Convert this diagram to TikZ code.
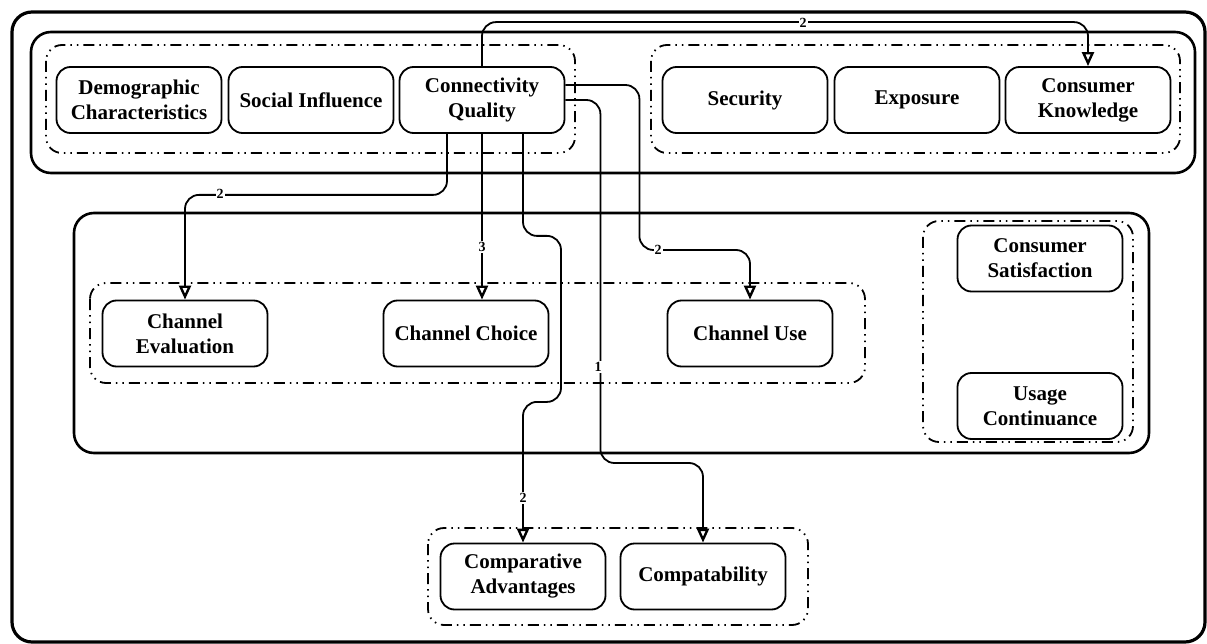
\documentclass[tikz,border=0pt]{standalone}
\usepackage{fontspec}
\setmainfont{Liberation Serif}
\usetikzlibrary{arrows.meta}

\begin{document}
\begin{tikzpicture}[x=1pt, y=-1pt,
  item/.style={draw, line width=1.8pt, rounded corners=14pt,
    minimum width=165pt, minimum height=66pt, align=center, inner sep=2pt,
    font=\fontsize{21}{25}\selectfont\bfseries},
  frame/.style={draw, line width=2.6pt, rounded corners=20pt},
  cluster/.style={draw, line width=1.8pt, rounded corners=16pt,
    dash pattern=on 11pt off 5pt on 1.5pt off 5pt on 1.5pt off 5pt},
  link/.style={draw, line width=1.8pt, rounded corners=14pt,
    -{Triangle[open, length=14pt, width=12pt, line width=2.4pt]}},
  tag/.style={fill=white, inner sep=1pt, font=\fontsize{14}{14}\selectfont\bfseries}
]
\useasboundingbox (0,0) rectangle (1207,644);

% outer frame
\draw[line width=3.2pt, rounded corners=20pt] (12,12) rectangle (1205,642);

% group frames
\draw[frame] (31,32) rectangle (1195,173);
\draw[frame] (74,213) rectangle (1149,453);

% dash-dotted clusters
\draw[cluster] (46,45) rectangle (575,153);
\draw[cluster] (651,45) rectangle (1180,153);
\draw[cluster] (90,283) rectangle (865,383);
\draw[cluster] (923,221) rectangle (1133,442);
\draw[cluster] (428,528) rectangle (808,625);

% factors
\node[item] (demo) at (139,100) {Demographic\\Characteristics};
\node[item] (soc)  at (311,100) {Social Influence};
\node[item] (cq)   at (482,100) {Connectivity\\Quality};
\node[item] (sec)  at (745,100) {Security};
\node[item] (exp)  at (917,100) {Exposure};
\node[item] (ck)   at (1088,100) {Consumer\\Knowledge};

\node[item] (ce) at (185,333.5) {Channel\\Evaluation};
\node[item] (cc) at (466,333.5) {Channel Choice};
\node[item] (cu) at (750,333.5) {Channel Use};

\node[item] (cs) at (1040,258.5) {Consumer\\Satisfaction};
\node[item] (uc) at (1040,406) {Usage\\Continuance};

\node[item] (ca)     at (523,576.5) {Comparative\\Advantages};
\node[item] (compat) at (703,576.5) {Compatability};

% connections from Connectivity Quality
\draw[link] (cq.north) -- ++(0,-44) -| (ck.north);
\draw[link] ([xshift=-35pt]cq.south) -- ++(0,61) -| (ce.north);
\draw[link] (cq.south) -- (cq.south |- cc.north);
\draw[link] ([xshift=41pt]cq.south) -- ++(0,102) -- ++(38,0) -- ++(0,166)
  -- ++(-38,0) -- (ca.north);
\draw[link] (cq.east) -- ++(35,0) -- ++(0,363) -| (compat.north);
\draw[link] ([yshift=15pt]cq.east) -- ++(74,0) -- ++(0,165) -| (cu.north);

% strength labels
\node[tag] (t1) at (803,23) {2};
\node[tag] (t2) at (220,194) {2};
\node[tag] (t3) at (482,247) {3};
\node[tag] (t4) at (523,498) {2};
\node[tag] (t5) at (598,367) {1};
\node[tag] (t6) at (658,250) {2};
\end{tikzpicture}
\end{document}
